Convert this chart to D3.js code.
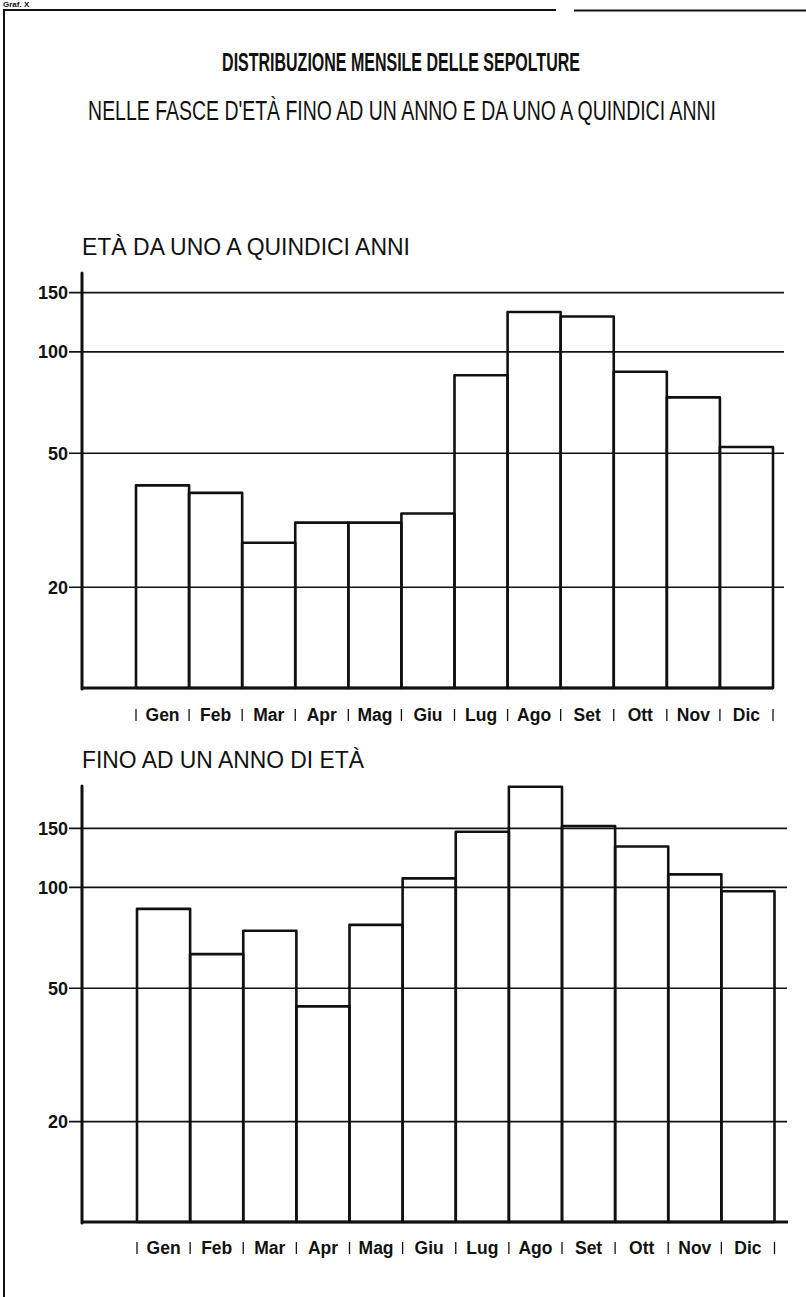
<!DOCTYPE html>
<html><head><meta charset="utf-8">
<script src="https://cdn.jsdelivr.net/npm/d3@7"></script>
<style>
html,body{margin:0;padding:0;background:#fff;}
svg{display:block;}
</style></head>
<body>
<svg id="c" width="806" height="1297"></svg>
<script>
const months = ["Gen","Feb","Mar","Apr","Mag","Giu","Lug","Ago","Set","Ott","Nov","Dic"];
const unoQuindici = [40, 38, 27, 31, 31, 33, 85, 131, 127, 87, 73, 52];
const finoUnAnno = [86, 63, 74, 44, 77, 106, 146, 199, 152, 132, 109, 97];
const tickValues = [20, 50, 100, 150];
const title = "DISTRIBUZIONE MENSILE DELLE SEPOLTURE";
const subtitle = "NELLE FASCE D'ETÀ FINO AD UN ANNO E DA UNO A QUINDICI ANNI";
const panelTitles = ["ETÀ DA UNO A QUINDICI ANNI", "FINO AD UN ANNO DI ETÀ"];

const svg = d3.select("#c");
const ink = "#111";

// frame
svg.append("line").attr("x1",4).attr("x2",556).attr("y1",10).attr("y2",10).attr("stroke",ink).attr("stroke-width",2);
svg.append("line").attr("x1",574).attr("x2",806).attr("y1",10.5).attr("y2",10.5).attr("stroke",ink).attr("stroke-width",2);
svg.append("line").attr("x1",4).attr("x2",4).attr("y1",9).attr("y2",1297).attr("stroke",ink).attr("stroke-width",2);
svg.append("text").attr("x",3).attr("y",7).attr("font-family","Liberation Sans").attr("font-weight","bold")
  .attr("font-size",8).attr("fill",ink).text("Graf. X");

// condensed heading: natural text squeezed horizontally to a target width
function heading(txt, cx, by, size, bold, w) {
  const g = svg.append("g");
  const t = g.append("text").attr("x",0).attr("y",0).attr("text-anchor","middle")
    .attr("font-family","'Liberation Sans Narrow','Liberation Sans',Arial")
    .attr("font-weight", bold ? "bold" : "normal").attr("font-size",size).attr("fill",ink).text(txt);
  const cur = t.node().getComputedTextLength();
  const s = cur > 0 ? w / cur : 1;
  g.attr("transform",`translate(${cx},${by}) scale(${s},1)`);
}
heading(title, 401, 71, 26, true, 358);
heading(subtitle, 402, 120, 28, false, 628);

const panels = [
  {data: unoQuindici, name: panelTitles[0], titleY: 255, titleW: 328, axisTop: 273, base: 688, yMax: 171,
   x0: 136, x1: 773, gridEnd: 784, baseEnd: 773, labelY: 721},
  {data: finoUnAnno, name: panelTitles[1], titleY: 768, titleW: 282, axisTop: 786, base: 1222, yMax: 200,
   x0: 137, x1: 774.5, gridEnd: 787, baseEnd: 788, labelY: 1254}
];

panels.forEach(p => {
  const g = svg.append("g");
  g.append("text").attr("x",82).attr("y",p.titleY).attr("font-family","'Liberation Sans',Arial")
    .attr("font-size",23).attr("textLength",p.titleW).attr("lengthAdjust","spacingAndGlyphs")
    .attr("fill",ink).text(p.name);

  const y = d3.scaleLog().domain([10, p.yMax]).range([p.base, p.axisTop]);
  const x = d3.scaleBand().domain(months).range([p.x0, p.x1]).padding(0);

  // gridlines + tick labels
  const ax = g.append("g").attr("transform","translate(69,0)")
    .call(d3.axisLeft(y).tickValues(tickValues).tickSize(-(p.gridEnd-69)).tickPadding(1).tickFormat(d3.format("d")));
  ax.select(".domain").remove();
  ax.selectAll(".tick line").attr("stroke",ink).attr("stroke-width",1.6);
  ax.selectAll(".tick text").attr("fill",ink).attr("font-family","'Liberation Sans',Arial")
    .attr("font-weight","bold").attr("font-size",18).attr("dy","0.36em");

  // bars
  g.selectAll("rect.bar").data(p.data).join("rect").attr("class","bar")
    .attr("x",(d,i)=>x(months[i])).attr("width",x.bandwidth())
    .attr("y",d=>y(d)).attr("height",d=>p.base-y(d))
    .attr("fill","none").attr("stroke",ink).attr("stroke-width",2.6).attr("stroke-linejoin","round");

  // axes
  g.append("line").attr("x1",82).attr("x2",82).attr("y1",p.axisTop).attr("y2",p.base+1)
    .attr("stroke",ink).attr("stroke-width",3).attr("stroke-linecap","round");
  g.append("line").attr("x1",82).attr("x2",p.baseEnd).attr("y1",p.base).attr("y2",p.base)
    .attr("stroke",ink).attr("stroke-width",2.8);

  // month labels
  const xa = g.append("g").attr("transform",`translate(0,${p.labelY})`)
    .call(d3.axisBottom(x).tickSize(0).tickPadding(0));
  xa.select(".domain").remove();
  xa.selectAll(".tick text").attr("dy",0).attr("fill",ink).attr("font-family","'Liberation Sans',Arial")
    .attr("font-weight","bold").attr("font-size",17.5);
  // separators at band edges
  const edges = months.map(m => x(m)).concat([p.x1]);
  g.selectAll("line.sep").data(edges).join("line").attr("class","sep")
    .attr("x1",d=>d).attr("x2",d=>d).attr("y1",p.labelY-12).attr("y2",p.labelY)
    .attr("stroke",ink).attr("stroke-width",1.3);
});
</script>
</body></html>
